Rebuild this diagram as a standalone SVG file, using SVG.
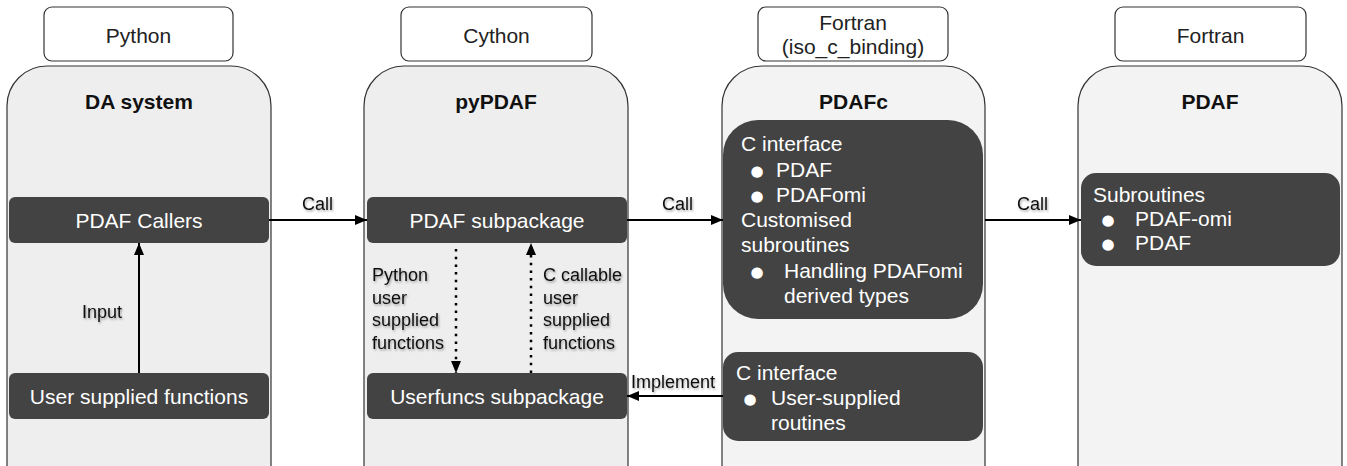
<svg xmlns="http://www.w3.org/2000/svg" width="1347" height="466" viewBox="0 0 1347 466">
<style>
text{font-family:"Liberation Sans",Arial,sans-serif;}
.lbl{fill:#fff;stroke:#333;stroke-width:1.2;}
.lt{font-size:21px;fill:#222;text-anchor:middle;}
.cont{stroke:#333;stroke-width:1.2;}
.title{font-size:21px;font-weight:bold;fill:#111;text-anchor:middle;}
.dark{fill:#434343;}
.wt{font-size:21px;fill:#fff;}
.wc{text-anchor:middle;}
.bul{font-family:"DejaVu Sans",sans-serif;font-size:15px;fill:#fff;text-anchor:middle;}
.conn{stroke:#000;stroke-width:2;fill:none;}
.dot{stroke:#000;stroke-width:2.5;fill:none;stroke-dasharray:2.5 5.2;}
.cl{font-size:18px;fill:#111;filter:url(#sh);}
</style>
<defs>
<marker id="ah" markerUnits="userSpaceOnUse" markerWidth="14" markerHeight="12" refX="12" refY="5" orient="auto">
<path d="M0,0 L12,5 L0,10 z" fill="#000"/>
</marker>
<filter id="sh" x="-20%" y="-30%" width="140%" height="160%">
<feDropShadow dx="1" dy="1.5" stdDeviation="1" flood-color="#000" flood-opacity="0.35"/>
</filter>
</defs>

<g id="python">
<rect class="lbl" x="44" y="7" width="189" height="54" rx="8"/>
<text class="lt" x="138.5" y="42.5">Python</text>
</g>
<g id="cython">
<rect class="lbl" x="401" y="7" width="191" height="54" rx="8"/>
<text class="lt" x="496.5" y="42.5">Cython</text>
</g>
<g id="fortran-iso">
<rect class="lbl" x="758" y="7" width="190" height="54" rx="8"/>
<text class="lt" x="853" y="30">Fortran</text>
<text class="lt" x="853" y="54">(iso_c_binding)</text>
</g>
<g id="fortran">
<rect class="lbl" x="1115" y="7" width="191" height="54" rx="8"/>
<text class="lt" x="1210.5" y="42.5">Fortran</text>
</g>

<g id="da-system">
<path class="cont" fill="#eeeeee" d="M7,480 V106 A40,40 0 0 1 47,66 H231 A40,40 0 0 1 271,106 V480"/>
<text class="title" x="139" y="109">DA system</text>
</g>
<g id="pypdaf">
<path class="cont" fill="#eeeeee" d="M364,480 V106 A40,40 0 0 1 404,66 H588 A40,40 0 0 1 628,106 V480"/>
<text class="title" x="496" y="109">pyPDAF</text>
</g>
<g id="pdafc">
<path class="cont" fill="#f3f3f3" d="M722,480 V106 A40,40 0 0 1 762,66 H945 A40,40 0 0 1 985,106 V480"/>
<text class="title" x="853.5" y="109">PDAFc</text>
</g>
<g id="pdaf">
<path class="cont" fill="#f3f3f3" d="M1078,480 V106 A40,40 0 0 1 1118,66 H1302 A40,40 0 0 1 1342,106 V480"/>
<text class="title" x="1210" y="109">PDAF</text>
</g>

<g id="pdaf-callers">
<rect class="dark" x="9" y="197" width="260" height="46" rx="6"/>
<text class="wt wc" x="139" y="227.5">PDAF Callers</text>
</g>
<g id="user-supplied-functions">
<rect class="dark" x="9" y="373" width="260" height="46" rx="6"/>
<text class="wt wc" x="139" y="404">User supplied functions</text>
</g>
<g id="pdaf-subpackage">
<rect class="dark" x="367" y="197" width="260" height="46" rx="6"/>
<text class="wt wc" x="497" y="227.5">PDAF subpackage</text>
</g>
<g id="userfuncs-subpackage">
<rect class="dark" x="367" y="373" width="260" height="46" rx="6"/>
<text class="wt wc" x="497" y="404">Userfuncs subpackage</text>
</g>
<g id="pdafc-interface">
<rect class="dark" x="723" y="120" width="260" height="199" rx="35"/>
<text class="wt" x="741" y="151">C interface</text>
<text class="bul" x="757" y="176">●</text>
<text class="wt" x="776" y="177">PDAF</text>
<text class="bul" x="757" y="201">●</text>
<text class="wt" x="776" y="202">PDAFomi</text>
<text class="wt" x="741" y="227">Customised</text>
<text class="wt" x="741" y="252">subroutines</text>
<text class="bul" x="757" y="277">●</text>
<text class="wt" x="784" y="278">Handling PDAFomi</text>
<text class="wt" x="784" y="303">derived types</text>
</g>
<g id="pdafc-user">
<rect class="dark" x="723" y="352" width="260" height="89" rx="15"/>
<text class="wt" x="736" y="380">C interface</text>
<text class="bul" x="750" y="404">●</text>
<text class="wt" x="771" y="405">User-supplied</text>
<text class="wt" x="771" y="430">routines</text>
</g>
<g id="subroutines">
<rect class="dark" x="1081" y="173" width="259" height="93" rx="15"/>
<text class="wt" x="1093" y="202">Subroutines</text>
<text class="bul" x="1108" y="225">●</text>
<text class="wt" x="1135" y="226">PDAF-omi</text>
<text class="bul" x="1108" y="249">●</text>
<text class="wt" x="1135" y="250">PDAF</text>
</g>

<g id="connectors">
<line class="conn" x1="269" y1="220" x2="367" y2="220" marker-end="url(#ah)"/>
<text class="cl" x="302" y="209.5">Call</text>
<line class="conn" x1="627" y1="220" x2="723" y2="220" marker-end="url(#ah)"/>
<text class="cl" x="662" y="209.5">Call</text>
<line class="conn" x1="985" y1="220" x2="1081" y2="220" marker-end="url(#ah)"/>
<text class="cl" x="1017" y="209.5">Call</text>
<line class="conn" x1="139" y1="373" x2="139" y2="243" marker-end="url(#ah)"/>
<text class="cl" x="82" y="318">Input</text>
<line class="dot" x1="456" y1="249" x2="456" y2="373" marker-end="url(#ah)"/>
<text class="cl" x="372" y="281">Python</text>
<text class="cl" x="372" y="303.5">user</text>
<text class="cl" x="372" y="326">supplied</text>
<text class="cl" x="372" y="349">functions</text>
<line class="dot" x1="531" y1="373" x2="531" y2="243" marker-end="url(#ah)"/>
<text class="cl" x="543" y="281">C callable</text>
<text class="cl" x="543" y="303.5">user</text>
<text class="cl" x="543" y="326">supplied</text>
<text class="cl" x="543" y="349">functions</text>
<line class="conn" x1="723" y1="396" x2="627" y2="396" marker-end="url(#ah)"/>
<text class="cl" x="631" y="388">Implement</text>
</g>
</svg>
